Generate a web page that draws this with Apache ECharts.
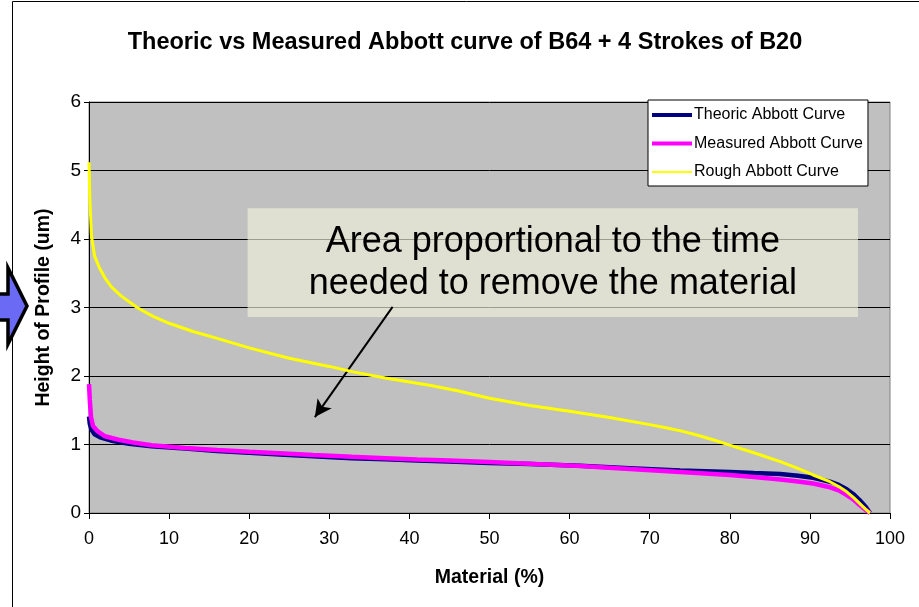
<!DOCTYPE html>
<html>
<head>
<meta charset="utf-8">
<script src="https://cdn.jsdelivr.net/npm/echarts@6/dist/echarts.min.js"></script>
<style>
html,body{margin:0;padding:0;background:#fff;}
#chart{width:919px;height:607px;}
</style>
</head>
<body>
<div id="chart"></div>
<script>
// ---- Data ----
var titleText = 'Theoric vs Measured Abbott curve of B64 + 4 Strokes of B20';
var xAxisName = 'Material (%)';
var yAxisName = 'Height of Profile (um)';
var seriesNames = ['Theoric Abbott Curve', 'Measured Abbott Curve', 'Rough Abbott Curve'];

var theoricX = [0, 0.1, 0.3, 0.7, 1.5, 3, 5, 7.8, 12, 16, 20, 24.4, 28, 32.8, 37, 41, 45, 50, 55, 61.3, 67.5, 73.8, 80, 83, 86.3, 88.5, 90.4, 92.5, 93.6, 94.6, 95.5, 96.2, 96.9, 97.5];
var theoricY = [1.41, 1.30, 1.22, 1.15, 1.10, 1.05, 1.01, 0.975, 0.94, 0.905, 0.88, 0.85, 0.83, 0.80, 0.785, 0.765, 0.75, 0.73, 0.715, 0.69, 0.655, 0.62, 0.60, 0.585, 0.57, 0.545, 0.515, 0.457, 0.41, 0.346, 0.27, 0.19, 0.10, 0];

var measuredX = [0, 0.1, 0.25, 0.5, 1.1, 2, 3.7, 5.5, 7.8, 12, 16, 20, 24.4, 28, 32.8, 37, 41, 45, 50, 55, 61.3, 67.5, 73.8, 80, 83, 86.3, 88.5, 90.4, 92.5, 93.6, 94.6, 95.5, 96.2, 96.9, 97.5];
var measuredY = [1.88, 1.65, 1.40, 1.27, 1.19, 1.12, 1.07, 1.03, 0.99, 0.95, 0.92, 0.895, 0.87, 0.845, 0.82, 0.80, 0.78, 0.765, 0.745, 0.72, 0.686, 0.642, 0.60, 0.555, 0.525, 0.49, 0.46, 0.43, 0.375, 0.33, 0.26, 0.19, 0.117, 0.05, 0];

var roughX = [0, 0.1, 0.3, 0.7, 1.3, 2, 2.8, 4, 6, 8, 10, 13, 16, 20, 25, 30, 33, 37, 42.5, 46, 50, 55, 60, 65, 70, 72, 74, 76, 78, 80, 83, 86.3, 88.5, 90.4, 92.5, 93.7, 94.6, 95.5, 96.2, 96.9, 97.5];
var roughY = [5.12, 4.6, 4.05, 3.75, 3.58, 3.43, 3.30, 3.17, 3.0, 2.87, 2.77, 2.65, 2.55, 2.41, 2.26, 2.14, 2.06, 1.97, 1.865, 1.785, 1.675, 1.57, 1.485, 1.395, 1.29, 1.245, 1.195, 1.135, 1.065, 0.99, 0.88, 0.75, 0.65, 0.555, 0.457, 0.38, 0.31, 0.22, 0.14, 0.06, 0];

var annotationText = 'Area proportional to the time\nneeded to remove the material';
var annotationBox = [[19.8, 4.45], [96.0, 2.86]];   // data coords of the text box
var annotationArrow = [[37.9, 3.01], [28.2, 1.40]]; // data coords of the pointer

function zip(xs, ys) { return xs.map(function (x, i) { return [x, ys[i]]; }); }

var FONT = 'Arial, "Liberation Sans", sans-serif';
var chart = echarts.init(document.getElementById('chart'), null, {renderer: 'canvas'});

var option = {
  animation: false,
  backgroundColor: '#ffffff',
  title: {
    text: titleText,
    left: 460,
    textAlign: 'center',
    top: 26,
    textStyle: {fontFamily: FONT, fontWeight: 'bold', fontSize: 23.5, color: '#000'}
  },
  grid: {
    left: 89, right: 29, top: 102, bottom: 94,
    show: true, backgroundColor: '#c0c0c0', borderColor: '#808080', borderWidth: 1
  },
  legend: {
    orient: 'vertical',
    left: 648, top: 100,
    padding: [7, 5, 6, 4],
    itemWidth: 40, itemHeight: 14, itemGap: 12.5,
    symbolKeepAspect: true,
    backgroundColor: '#ffffff', borderColor: '#000', borderWidth: 1,
    textStyle: {fontFamily: FONT, fontSize: 16, color: '#000', padding: [0, 0, 0, -3]},
    data: [
      {name: seriesNames[0], icon: 'path://M0,0H40V4H0Z'},
      {name: seriesNames[1], icon: 'path://M0,0H40V4H0Z'},
      {name: seriesNames[2], icon: 'path://M0,0H40V2H0Z'}
    ]
  },
  xAxis: {
    type: 'value', min: 0, max: 100, interval: 10,
    name: xAxisName, nameLocation: 'middle', nameGap: 55,
    nameTextStyle: {fontFamily: FONT, fontWeight: 'bold', fontSize: 19.5, color: '#000'},
    axisLine: {show: true, onZero: false, lineStyle: {color: '#000', width: 1}},
    axisTick: {show: true, length: 6, inside: false, lineStyle: {color: '#000'}},
    axisLabel: {fontFamily: FONT, fontSize: 18, color: '#000', margin: 17},
    splitLine: {show: false}
  },
  yAxis: {
    type: 'value', min: 0, max: 6, interval: 1,
    name: yAxisName, nameLocation: 'middle', nameGap: 35,
    nameTextStyle: {fontFamily: FONT, fontWeight: 'bold', fontSize: 19.5, color: '#000'},
    axisLine: {show: true, onZero: false, lineStyle: {color: '#000', width: 1}},
    axisTick: {show: true, length: 5, inside: false, lineStyle: {color: '#000'}},
    axisLabel: {fontFamily: FONT, fontSize: 19, color: '#000', margin: 8},
    splitLine: {show: true, lineStyle: {color: '#000', width: 1}}
  },
  series: [
    {
      name: seriesNames[0], type: 'line', symbol: 'none', showSymbol: false,
      data: zip(theoricX, theoricY), smooth: false,
      lineStyle: {color: '#000080', width: 4.5}, itemStyle: {color: '#000080'},
      z: 3
    },
    {
      name: seriesNames[1], type: 'line', symbol: 'none', showSymbol: false,
      data: zip(measuredX, measuredY),
      lineStyle: {color: '#ff00ff', width: 4.5}, itemStyle: {color: '#ff00ff'},
      z: 4
    },
    {
      name: seriesNames[2], type: 'line', symbol: 'none', showSymbol: false,
      data: zip(roughX, roughY),
      lineStyle: {color: '#ffff00', width: 3}, itemStyle: {color: '#ffff00'},
      z: 5,
      markArea: {
        silent: true,
        itemStyle: {color: 'rgba(240,240,220,0.65)'},
        label: {
          show: true, position: 'inside',
          fontFamily: FONT, fontSize: 36, lineHeight: 42, color: '#000'
        },
        data: [[
          {name: annotationText, coord: annotationBox[0]},
          {coord: annotationBox[1]}
        ]]
      },
      markLine: {
        silent: true,
        symbol: ['none', 'arrow'],
        symbolSize: [13, 17],
        label: {show: false},
        lineStyle: {color: '#000', width: 2, type: 'solid'},
        emphasis: {disabled: true},
        data: [[
          {coord: annotationArrow[0]},
          {coord: annotationArrow[1]}
        ]]
      }
    }
  ],
  graphic: [
    {
      type: 'rect', silent: true, z: 100,
      shape: {x: 12.5, y: 1.5, width: 1200, height: 1200},
      style: {fill: 'none', stroke: '#000', lineWidth: 1}
    },
    {
      type: 'polygon', silent: true, z: 101,
      shape: {points: [[-6, 294], [8, 294], [8, 268], [27, 306], [8, 344], [8, 320], [-6, 320]]},
      style: {fill: '#6a6af4', stroke: '#000', lineWidth: 3.5, lineJoin: 'miter'}
    }
  ]
};
chart.setOption(option);
</script>
</body>
</html>
